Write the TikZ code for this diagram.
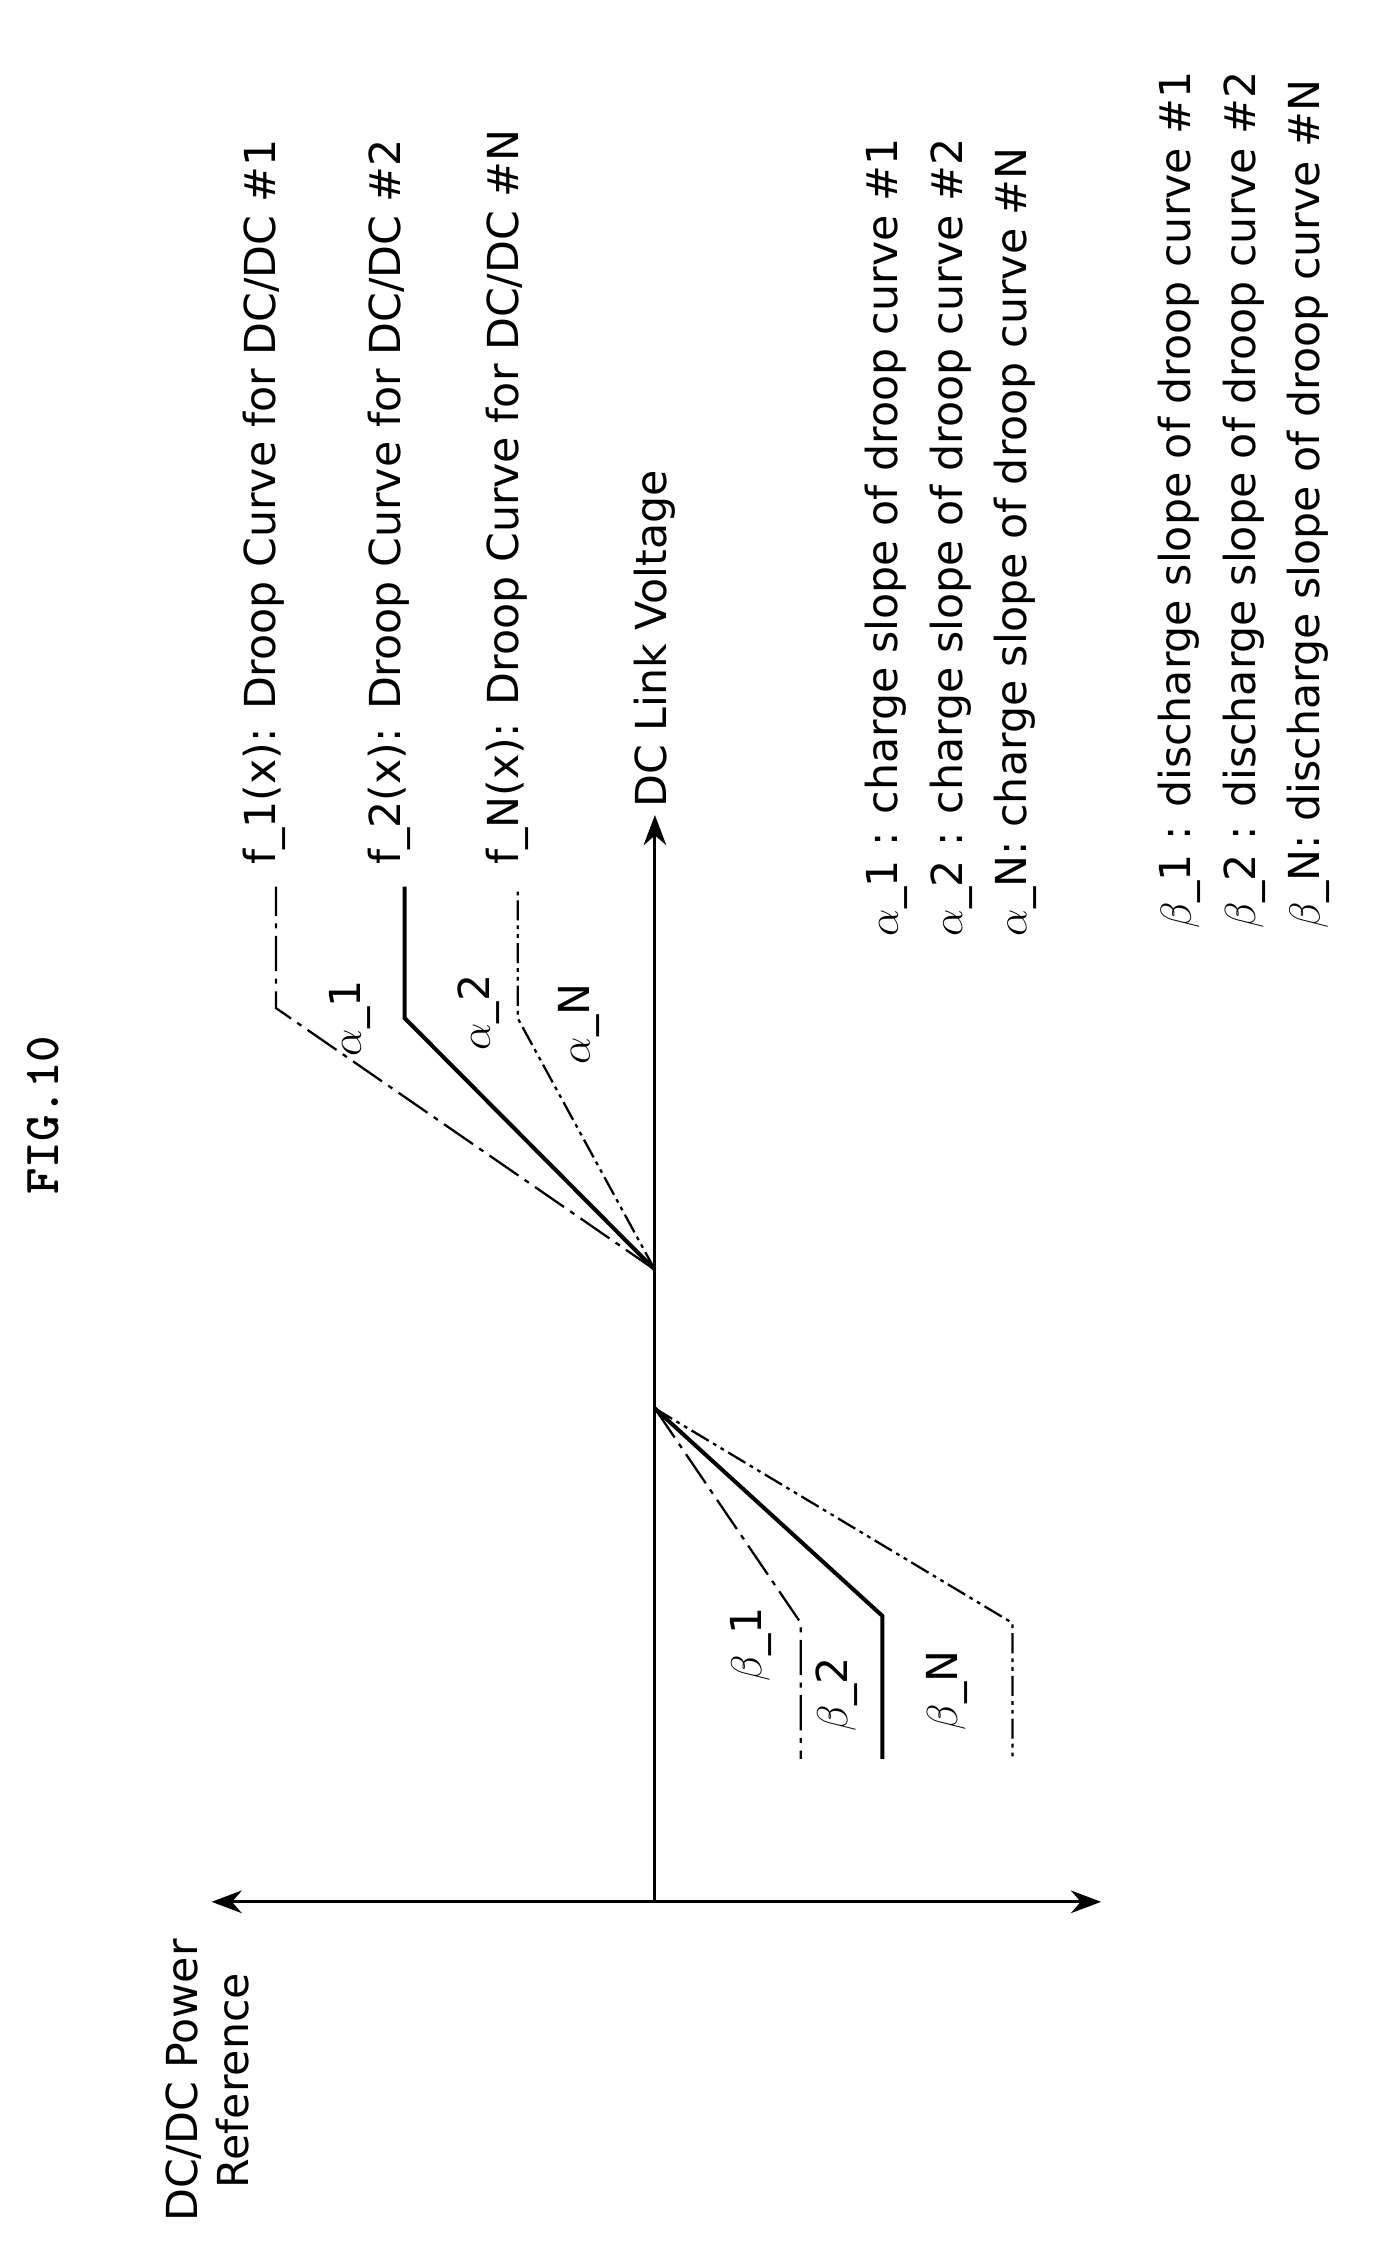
\documentclass[tikz,border=0pt]{standalone}
\usepackage{fontspec}
\setmainfont{DejaVu Sans}
\usetikzlibrary{arrows.meta,positioning}
\tikzset{
  lbl/.style={rotate=90, anchor=west, inner sep=0pt, font=\fontsize{17}{20}\selectfont},
  glbl/.style={rotate=90, inner sep=0pt, font=\fontsize{17}{20}\selectfont},
  curveone/.style={line width=0.9pt, dash pattern=on 14pt off 3pt on 2pt off 3pt},
  curvetwo/.style={line width=1.6pt},
  curven/.style={line width=0.9pt, dash pattern=on 8pt off 2pt on 1.5pt off 2pt on 1.5pt off 2pt}
}
\begin{document}
\begin{tikzpicture}[x=0.02cm, y=-0.02cm]
    \useasboundingbox (0,0) rectangle (960,1577);

    % Title
    \node[rotate=90, font=\ttfamily\bfseries\fontsize{20}{24}\selectfont] (fig) at (30,780) {FIG.10};

    % Axes
    \coordinate (origin) at (458,1330);
    \coordinate (vtop) at (458,570);
    \coordinate (hleft) at (148,1330);
    \coordinate (hright) at (770,1330);
    \draw[-{Stealth[length=12pt]}, line width=1.2pt] (origin) -- (vtop);
    \draw[{Stealth[length=12pt]}-{Stealth[length=12pt]}, line width=1.2pt] (hleft) -- (hright);
    \node[lbl] (vlabel) at (458,565) {DC Link Voltage};
    \node[glbl, align=center] (hlabel) at (145,1455) {DC/DC Power\\Reference};

    % Charge side
    \coordinate (pa) at (458,888);
    \coordinate (a1) at (193,705);
    \coordinate (a2) at (283,712);
    \coordinate (an) at (362,712);
    \draw[curveone] (pa) -- (a1) -- (193,620);
    \draw[curvetwo] (pa) -- (a2) -- (283,620);
    \draw[curven] (pa) -- (an) -- (362,620);
    \node[glbl] (al1) at (245,712) {$\alpha$\_1};
    \node[glbl] (al2) at (335,708) {$\alpha$\_2};
    \node[glbl] (aln) at (405,716) {$\alpha$\_N};

    % Discharge side
    \coordinate (pb) at (458,985);
    \coordinate (b1) at (560,1135);
    \coordinate (b2) at (617,1130);
    \coordinate (bn) at (708,1135);
    \draw[curveone] (pb) -- (b1) -- (560,1230);
    \draw[curvetwo] (pb) -- (b2) -- (617,1230);
    \draw[curven] (pb) -- (bn) -- (708,1230);
    \node[glbl] (be1) at (525,1150) {$\beta$\_1};
    \node[glbl] (be2) at (585,1185) {$\beta$\_2};
    \node[glbl] (ben) at (662,1182) {$\beta$\_N};

    % Curve names
    \node[lbl] (f1) at (185,605) {f\_1(x): Droop Curve for DC/DC \#1};
    \node[lbl] (f2) at (272,605) {f\_2(x): Droop Curve for DC/DC \#2};
    \node[lbl] (fn) at (355,605) {f\_N(x): Droop Curve for DC/DC \#N};

    % Legend
    \node[lbl] (la1) at (620,655) {$\alpha$\_1 : charge slope of droop curve \#1};
    \node[lbl] (la2) at (665,655) {$\alpha$\_2 : charge slope of droop curve \#2};
    \node[lbl] (lan) at (710,655) {$\alpha$\_N: charge slope of droop curve \#N};
    \node[lbl] (lb1) at (825,650) {$\beta$\_1 : discharge slope of droop curve \#1};
    \node[lbl] (lb2) at (870,650) {$\beta$\_2 : discharge slope of droop curve \#2};
    \node[lbl] (lbn) at (915,650) {$\beta$\_N: discharge slope of droop curve \#N};
\end{tikzpicture}
\end{document}
